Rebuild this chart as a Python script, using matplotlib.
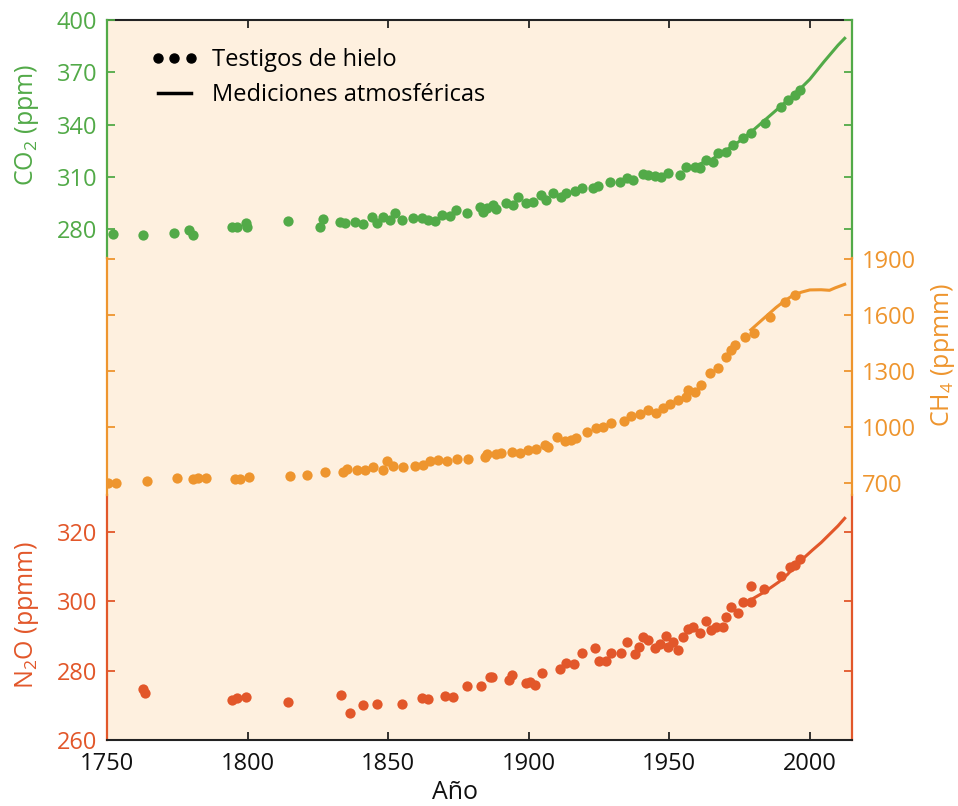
import matplotlib
matplotlib.use("Agg")
import matplotlib.pyplot as plt
from matplotlib.lines import Line2D

plt.rcParams['font.family'] = ['Open Sans', 'DejaVu Sans']
plt.rcParams['mathtext.fontset'] = 'custom'
plt.rcParams['mathtext.rm'] = 'Open Sans'

# ---------------- data ----------------
co2_core_years = [1752.0, 1762.9, 1773.8, 1779.3, 1780.7, 1794.3, 1796.1, 1799.4, 1799.7,
                  1814.3, 1826.9, 1825.7, 1832.9, 1834.7, 1838.2, 1841.1, 1844.1, 1845.9,
                  1848.3, 1850.6, 1852.4, 1854.8, 1858.9, 1861.9, 1864.3, 1866.6, 1869.0,
                  1872.0, 1874.1, 1877.9, 1882.6, 1885.0, 1883.8, 1887.3, 1888.5, 1892.1,
                  1894.5, 1896.2, 1899.2, 1901.6, 1904.5, 1906.3, 1908.7, 1911.6, 1913.4,
                  1916.4, 1918.8, 1922.9, 1924.7, 1928.8, 1932.4, 1934.8, 1937.1, 1940.7,
                  1942.5, 1944.8, 1947.2, 1949.6, 1953.7, 1956.1, 1959.1, 1960.8, 1963.2,
                  1965.6, 1967.4, 1970.3, 1972.7, 1976.2, 1979.2, 1984.0, 1989.9, 1992.2,
                  1994.6, 1996.6]
co2_core_vals = [277.1, 276.5, 278.0, 279.5, 276.6, 281.4, 281.4, 283.7, 281.1,
                 284.5, 285.7, 281.1, 284.3, 283.7, 283.9, 282.8, 287.1, 283.4,
                 287.1, 285.3, 289.1, 285.3, 286.6, 286.2, 285.3, 284.9, 288.1,
                 287.6, 291.0, 289.1, 292.9, 292.0, 290.0, 293.9, 291.4, 295.2,
                 293.9, 298.6, 295.2, 295.8, 299.6, 296.7, 300.9, 298.6, 300.9,
                 302.1, 303.4, 303.4, 304.9, 307.2, 307.2, 309.2, 308.2, 311.6,
                 311.1, 310.5, 310.1, 312.4, 311.1, 315.9, 315.9, 314.9, 319.7,
                 318.7, 323.5, 324.5, 328.3, 332.1, 335.0, 341.1, 349.9, 354.1,
                 357.0, 359.8]
co2_atm_years = [1958, 1960, 1965, 1970, 1975, 1980, 1985, 1990, 1995, 2000, 2005, 2010, 2012.4]
co2_atm_vals = [315.0, 316.9, 320.0, 325.0, 330.5, 337.0, 344.0, 351.0, 358.0, 366.0, 376.0, 385.5, 389.5]

ch4_core_years = [1750.5, 1753.2, 1764.1, 1774.8, 1780.7, 1782.5, 1785.2, 1795.5, 1797.3,
                  1800.6, 1815.1, 1821.0, 1827.5, 1834.0, 1835.2, 1838.8, 1841.7, 1844.7,
                  1848.3, 1849.7, 1851.8, 1855.4, 1859.5, 1862.5, 1864.9, 1867.8, 1870.8,
                  1874.4, 1878.5, 1884.4, 1885.0, 1888.5, 1890.3, 1893.9, 1896.8, 1899.8,
                  1902.7, 1905.7, 1906.9, 1910.1, 1912.8, 1915.2, 1917.0, 1920.7, 1924.1,
                  1926.5, 1929.4, 1933.8, 1936.5, 1939.5, 1942.5, 1945.4, 1947.8, 1950.2,
                  1953.1, 1956.1, 1956.7, 1959.1, 1961.4, 1964.4, 1967.4, 1970.3, 1972.1,
                  1973.3, 1976.8, 1980.0, 1985.7, 1991.1, 1994.6]
ch4_core_vals = [698, 701, 712, 728, 719, 725, 728, 721, 721,
                 734, 739, 743, 757, 760, 773, 768, 768, 784,
                 768, 815, 791, 784, 791, 796, 815, 823, 815,
                 827, 829, 841, 855, 855, 859, 868, 859, 877,
                 880, 903, 891, 948, 927, 930, 939, 975, 993,
                 1002, 1023, 1034, 1059, 1070, 1091, 1077, 1100, 1123,
                 1145, 1162, 1198, 1189, 1225, 1287, 1314, 1373, 1413,
                 1439, 1480, 1502, 1591, 1671, 1707]
ch4_atm_years = [1979, 1982, 1985, 1988, 1991, 1994, 1997, 2000, 2004, 2007, 2009, 2012.4]
ch4_atm_vals = [1520, 1560, 1600, 1640, 1675, 1705, 1722, 1734, 1735, 1732, 1745, 1764]

n2o_core_years = [1762.7, 1763.5, 1794.3, 1796.1, 1799.4, 1814.3, 1833.1, 1836.4, 1841.2,
                  1845.9, 1855.0, 1861.9, 1864.3, 1870.2, 1873.2, 1877.9, 1883.2, 1886.2,
                  1887.1, 1893.0, 1893.9, 1899.2, 1900.4, 1902.2, 1904.9, 1911.3, 1913.2,
                  1916.0, 1918.8, 1923.5, 1925.0, 1927.4, 1929.1, 1933.0, 1934.8, 1937.7,
                  1939.3, 1940.7, 1942.5, 1944.8, 1946.6, 1949.0, 1949.6, 1951.4, 1953.1,
                  1954.9, 1956.7, 1958.5, 1960.8, 1963.2, 1965.0, 1966.8, 1969.1, 1970.3,
                  1972.1, 1974.5, 1976.2, 1979.2, 1979.2, 1983.6, 1989.9, 1992.8, 1994.6,
                  1996.6]
n2o_core_vals = [274.6, 273.4, 271.5, 272.0, 272.5, 271.0, 272.9, 267.7, 270.1,
                 270.3, 270.3, 272.2, 271.7, 272.7, 272.3, 275.5, 275.5, 278.0,
                 278.0, 277.3, 278.7, 276.5, 276.8, 275.8, 279.4, 280.3, 282.2,
                 281.9, 285.1, 286.4, 282.8, 282.8, 285.1, 285.1, 288.3, 284.7,
                 286.9, 289.7, 288.8, 286.4, 287.6, 289.9, 286.9, 288.3, 285.9,
                 289.7, 291.8, 292.6, 290.7, 294.3, 291.6, 292.6, 292.6, 295.5,
                 298.2, 296.6, 299.8, 304.3, 299.8, 303.4, 307.2, 309.7, 310.4,
                 312.0]
n2o_atm_years = [1977, 1980, 1983, 1986, 1989, 1992, 1995, 1998, 2001, 2004, 2007, 2010, 2012.4]
n2o_atm_vals = [299.0, 300.8, 302.2, 303.8, 305.5, 307.6, 310.2, 312.5, 314.7, 316.8, 319.2, 321.6, 323.8]

year_ticks = [1750, 1800, 1850, 1900, 1950, 2000]
co2_ticks = [280, 310, 340, 370, 400]
ch4_ticks = [700, 1000, 1300, 1600, 1900]
n2o_ticks = [260, 280, 300, 320]

GREEN = '#52aa48'
ORANGE = '#ee952e'
RED = '#e2572a'
BG = '#fef0df'
FS = 16

fig = plt.figure(figsize=(9.58, 8.06), dpi=100)
ax = fig.add_axes([107 / 958, 1 - 740 / 806, 745 / 958, 720 / 806])
ax.set_facecolor(BG)
ax_co2 = ax.twinx()
ax_ch4 = ax.twinx()

# each gas gets its own band of the shared frame
ax.set_ylim(260, 467.2)
ax_co2.set_ylim(-13, 400)
ax_ch4.set_ylim(-677, 3180)
ax.set_xlim(1750, 2015)

ms = 7.4
ax.plot(n2o_core_years, n2o_core_vals, 'o', color=RED, ms=ms, mec='none')
ax.plot(n2o_atm_years, n2o_atm_vals, '-', color=RED, lw=2.2)
ax_co2.plot(co2_core_years, co2_core_vals, 'o', color=GREEN, ms=ms, mec='none')
ax_co2.plot(co2_atm_years, co2_atm_vals, '-', color=GREEN, lw=2.2)
ax_ch4.plot(ch4_core_years, ch4_core_vals, 'o', color=ORANGE, ms=ms, mec='none')
ax_ch4.plot(ch4_atm_years, ch4_atm_vals, '-', color=ORANGE, lw=2.2)

# x axis
ax.set_xticks(year_ticks)
ax.tick_params(axis='x', direction='in', top=True, length=6, width=1.2,
               labelsize=FS + 1, pad=9, colors='#111111')
for s in ('top', 'bottom'):
    ax.spines[s].set_color('#222222')
    ax.spines[s].set_linewidth(1.5)
ax.set_xlabel('Año', fontsize=FS + 2, color='#111111')
ax.xaxis.set_label_coords(0.467, -0.056)

for a in (ax_co2, ax_ch4):
    a.spines['top'].set_visible(False)
    a.spines['bottom'].set_visible(False)


def style_y(a, ticks, color, lo, hi, labels_left):
    a.set_yticks(ticks)
    a.yaxis.set_ticks_position('both')
    a.tick_params(axis='y', direction='in', length=6, width=1.3, colors=color,
                  labelsize=FS + 1, labelleft=labels_left, labelright=not labels_left, pad=7)
    for s in ('left', 'right'):
        a.spines[s].set_color(color)
        a.spines[s].set_linewidth(1.6)
        a.spines[s].set_bounds(lo, hi)
    a.yaxis.set_label_position('left' if labels_left else 'right')


style_y(ax, n2o_ticks, RED, 260, 330.5, True)
style_y(ax_co2, co2_ticks, GREEN, 263.5, 400, True)
style_y(ax_ch4, ch4_ticks, ORANGE, 636, 1905, False)

ax_co2.set_ylabel(r'CO$_\mathregular{2}$ (ppm)', fontsize=FS + 2, color=GREEN)
ax_co2.yaxis.set_label_coords(-0.088, 0.854)
ax.set_ylabel(r'N$_\mathregular{2}$O (ppmm)', fontsize=FS + 2, color=RED)
ax.yaxis.set_label_coords(-0.088, 0.174)
ax_ch4.set_ylabel(r'CH$_\mathregular{4}$ (ppmm)', fontsize=FS + 2, color=ORANGE,
                  rotation=90, va='top')
ax_ch4.yaxis.set_label_coords(1.103, 0.535)

handles = [Line2D([], [], color='black', marker='o', ls='none', ms=6.5),
           Line2D([], [], color='black', lw=2.5)]
leg = ax_co2.legend(handles, ['Testigos de hielo', 'Mediciones atmosféricas'],
                    loc='upper left', bbox_to_anchor=(0.03, 0.99), frameon=False,
                    numpoints=3, handlelength=2.0, handletextpad=0.6,
                    fontsize=FS + 1, labelspacing=0.45)

fig.savefig('out.png', dpi=100)
